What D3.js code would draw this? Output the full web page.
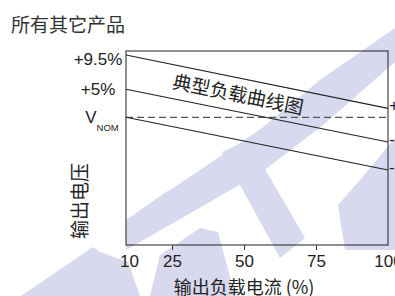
<!DOCTYPE html>
<html>
<head>
<meta charset="utf-8">
<script src="https://cdn.jsdelivr.net/npm/d3@7"></script>
<style>
  body { margin: 0; background: #fff; }
  svg { display: block; }
</style>
</head>
<body>
<div id="chart"></div>
<script>
const width = 395;
const height = 296;
const margin = { top: 51, right: 7, bottom: 51, left: 126 };

// load current (%) at the two ends of each curve
const loadRange = [9, 100];
// output voltage (% from nominal) at light load and at full load
const startLevels = [9.5, 5, 0];
const endLevels = [1.6, -4.4, -9.4];
const startLabels = ["+9.5%", "+5%", "V"];
const endLabels = ["+1.5%", "-4.5%", "-9.5%"];
const xTicks = [10, 25, 50, 75, 100];

const cjk = "'Noto Sans CJK SC', 'Noto Sans', sans-serif";
const latin = "'Liberation Sans', Arial, sans-serif";

// rough background watermark
const watermark = [
  [[21, 296], [93, 247], [100, 252], [128, 262], [140, 296]],
  [[126, 220], [166, 192], [172, 189], [262, 128], [320, 80], [395, 28], [395, 62], [323, 125], [262, 172], [126, 250]],
  [[150, 296], [160, 255], [200, 228], [218, 232], [235, 296]],
  [[222, 152], [248, 140], [305, 238], [280, 258]],
  [[360, 180], [395, 138], [395, 250], [345, 250], [338, 205]]
];

const svg = d3.select("#chart").append("svg")
  .attr("width", width)
  .attr("height", height);

svg.append("g")
  .selectAll("path")
  .data(watermark)
  .join("path")
  .attr("d", d => "M" + d.join("L") + "Z")
  .attr("fill", "#d8d8ee");

const x = d3.scaleLinear()
  .domain(loadRange)
  .range([margin.left, width - margin.right]);

const y = d3.scaleLinear()
  .domain([-22.8, 0, 5, 9.5, 10])
  .range([height - margin.bottom, 117.3, 89.3, 55, margin.top]);

svg.append("text")
  .attr("x", 11)
  .attr("y", 23)
  .attr("dominant-baseline", "central")
  .style("font", `19px ${cjk}`)
  .style("fill", "#333")
  .text("所有其它产品");

// dashed nominal line
svg.append("line")
  .attr("x1", x(loadRange[0]))
  .attr("x2", x(loadRange[1]))
  .attr("y1", y(0))
  .attr("y2", y(0))
  .attr("stroke", "#555")
  .attr("stroke-width", 1.2)
  .attr("stroke-dasharray", "7,4");

const curves = startLevels.map((v, i) => [[loadRange[0], v], [loadRange[1], endLevels[i]]]);

svg.append("g")
  .selectAll("path")
  .data(curves)
  .join("path")
  .attr("d", d3.line().x(d => x(d[0])).y(d => y(d[1])))
  .attr("fill", "none")
  .attr("stroke", "#222")
  .attr("stroke-width", 1.1);

// frame
svg.append("rect")
  .attr("x", x.range()[0])
  .attr("y", margin.top)
  .attr("width", x.range()[1] - x.range()[0])
  .attr("height", height - margin.bottom - margin.top)
  .attr("fill", "none")
  .attr("stroke", "#333")
  .attr("stroke-width", 1.1);

const xAxis = svg.append("g")
  .attr("transform", `translate(0,${height - margin.bottom})`)
  .call(d3.axisBottom(x).tickValues(xTicks).tickSize(5).tickPadding(5).tickFormat(d3.format("d")));
xAxis.select(".domain").remove();
xAxis.selectAll(".tick line")
  .attr("stroke", "#333")
  .attr("display", d => d === 25 || d === 50 || d === 75 ? null : "none");
xAxis.selectAll(".tick text")
  .style("font", `17px ${latin}`)
  .attr("fill", "#222");

// left level labels
const levelText = svg.append("g")
  .selectAll("text")
  .data(startLevels)
  .join("text")
  .attr("x", 98)
  .attr("y", d => Math.max(y(d), margin.top + 8))
  .attr("dy", "0.35em")
  .attr("text-anchor", "middle")
  .style("font", `17px ${latin}`)
  .attr("fill", "#222")
  .text((d, i) => startLabels[i]);

levelText.filter(d => d === 0)
  .attr("dx", 4)
  .append("tspan")
  .attr("dy", 8)
  .style("font-size", "9.5px")
  .text("NOM");

// right level labels (cut by the edge)
svg.append("g")
  .selectAll("text")
  .data(endLevels)
  .join("text")
  .attr("x", x(loadRange[1]) + 1)
  .attr("y", d => y(d) - 3)
  .attr("dy", "0.35em")
  .style("font", `17px ${latin}`)
  .attr("fill", "#222")
  .text((d, i) => endLabels[i]);

// curve label along the slope
const angle = Math.atan2(y(endLevels[0]) - y(startLevels[0]), x(loadRange[1]) - x(loadRange[0])) * 180 / Math.PI;
const lx = x(48);
const t = (48 - loadRange[0]) / (loadRange[1] - loadRange[0]);
const ly = (d3.interpolate(y(startLevels[0]), y(endLevels[0]))(t) + d3.interpolate(y(startLevels[1]), y(endLevels[1]))(t)) / 2 - 2;
svg.append("text")
  .attr("transform", `translate(${lx},${ly}) rotate(${angle})`)
  .attr("text-anchor", "middle")
  .attr("dominant-baseline", "central")
  .style("font", `19px ${cjk}`)
  .attr("fill", "#222")
  .text("典型负载曲线图");

svg.append("text")
  .attr("transform", `translate(78,${(margin.top + height - margin.bottom) / 2 + 53}) rotate(-90)`)
  .attr("text-anchor", "middle")
  .attr("dominant-baseline", "central")
  .style("font", `19px ${cjk}`)
  .attr("fill", "#222")
  .text("输出电压");

svg.append("text")
  .attr("x", x(50))
  .attr("y", 286)
  .attr("text-anchor", "middle")
  .attr("dominant-baseline", "central")
  .style("font", `18px ${cjk}`)
  .attr("fill", "#222")
  .text("输出负载电流 (%)");
</script>
</body>
</html>
